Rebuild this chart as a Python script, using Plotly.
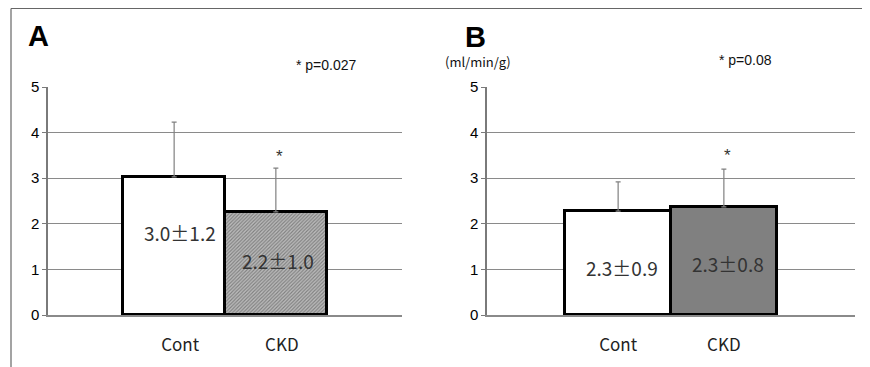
import plotly.graph_objects as go

categories = ["Cont", "CKD"]
a_means = [3.03, 2.26]
a_sd_up = [1.20, 0.96]
a_labels = ["3.0±1.2", "2.2±1.0"]
b_means = [2.28, 2.37]
b_sd_up = [0.64, 0.83]
b_labels = ["2.3±0.9", "2.3±0.8"]
y_ticks = [0, 1, 2, 3, 4, 5]
p_text_a = "* p=0.027"
p_text_b = "* p=0.08"
unit_text = "(ml/min/g)"

W, H = 870, 367
OFF = 8  # page margin compensation
CJK = "Noto Sans CJK JP"
SANS = "Liberation Sans, Arial"


def px(x):
    return (x - OFF) / W


def py(y):
    return 1 - (y - OFF) / H


fig = go.Figure()

err_style = dict(type="data", symmetric=False, color="#808080", thickness=1.2, width=2.5)

fig.add_trace(go.Bar(
    x=categories, y=a_means, xaxis="x", yaxis="y",
    error_y=dict(array=a_sd_up, arrayminus=[0, 0], **err_style),
    marker=dict(
        color=["#ffffff", "#bdbdbd"],
        line=dict(color="#000000", width=3),
        pattern=dict(shape=["", "/"], fgcolor="#9c9c9c", bgcolor="#cacaca", size=2.5, solidity=0.45),
    ),
    width=1.0, showlegend=False, hoverinfo="skip",
))
fig.add_trace(go.Bar(
    x=categories, y=b_means, xaxis="x2", yaxis="y2",
    error_y=dict(array=b_sd_up, arrayminus=[0, 0], **err_style),
    marker=dict(color=["#ffffff", "#808080"], line=dict(color="#000000", width=3)),
    width=1.0, showlegend=False, hoverinfo="skip",
))

ydom = [py(315), py(87)]
common_x = dict(type="category", range=[-1.24, 2.24], showgrid=False, showline=True,
                linecolor="#8a8a8a", linewidth=1.5, ticks="", zeroline=False,
                tickfont=dict(family=CJK, size=17, color="#222222"), ticklabelstandoff=14)
common_y = dict(range=[0, 5], tickvals=y_ticks, showgrid=True, gridcolor="#8a8a8a", gridwidth=1.3,
                showline=True, linecolor="#7a7a7a", linewidth=1.5, ticks="outside", ticklen=4,
                tickcolor="#7a7a7a", zeroline=False,
                tickfont=dict(family=SANS, size=15, color="#000000"), domain=ydom)

fig.update_layout(
    width=W, height=H, margin=dict(l=0, r=0, t=0, b=0, autoexpand=False),
    paper_bgcolor="#ffffff", plot_bgcolor="#ffffff", bargap=0,
    xaxis=dict(domain=[px(48), px(402)], anchor="y", ticklabelshift=6, **common_x),
    yaxis=dict(anchor="x", **common_y),
    xaxis2=dict(domain=[px(487), px(855)], anchor="y2", **common_x),
    yaxis2=dict(anchor="x2", **common_y),
)

# labels inside bars
label_y_a = [1.82, 1.20]
label_y_b = [1.05, 1.14]
for cat, txt, yy in zip(categories, a_labels, label_y_a):
    fig.add_annotation(x=cat, y=yy, xref="x", yref="y", text=txt, showarrow=False,
                       xanchor="center", yanchor="middle",
                       xshift=6 if cat == "Cont" else 2,
                       font=dict(family=CJK, size=19, color="#333333"))
for cat, txt, yy in zip(categories, b_labels, label_y_b):
    fig.add_annotation(x=cat, y=yy, xref="x2", yref="y2", text=txt, showarrow=False,
                       xanchor="center", yanchor="middle", xshift=4,
                       font=dict(family=CJK, size=19, color="#333333"))

# asterisks above CKD error bars
for xr, yr, yy in (("x", "y", 3.47), ("x2", "y2", 3.5)):
    fig.add_annotation(x="CKD", y=yy, xref=xr, yref=yr, text="*", showarrow=False, xshift=4,
                       xanchor="center", yanchor="middle",
                       font=dict(family=SANS, size=17, color="#333333"))


# panel letters and texts
def paper_text(x, y, text, size, family, color="#111111"):
    fig.add_annotation(x=px(x), y=py(y), xref="paper", yref="paper", text=text,
                       showarrow=False, xanchor="center", yanchor="middle",
                       font=dict(family=family, size=size, color=color))


paper_text(38, 36, "<b>A</b>", 29, SANS, "#000000")
paper_text(475, 37, "<b>B</b>", 29, SANS, "#000000")
paper_text(326, 65, p_text_a, 14, SANS)
paper_text(745, 60, p_text_b, 14, SANS)
paper_text(478, 62, unit_text, 13, CJK)

# outer frame (top and left)
fig.add_shape(type="line", xref="paper", yref="paper", x0=px(11), x1=1, y0=py(8.5), y1=py(8.5),
              line=dict(color="#666666", width=1.2))
fig.add_shape(type="line", xref="paper", yref="paper", x0=px(11), x1=px(11), y0=0, y1=py(8.5),
              line=dict(color="#666666", width=1.2))

fig.write_html("out.html")
